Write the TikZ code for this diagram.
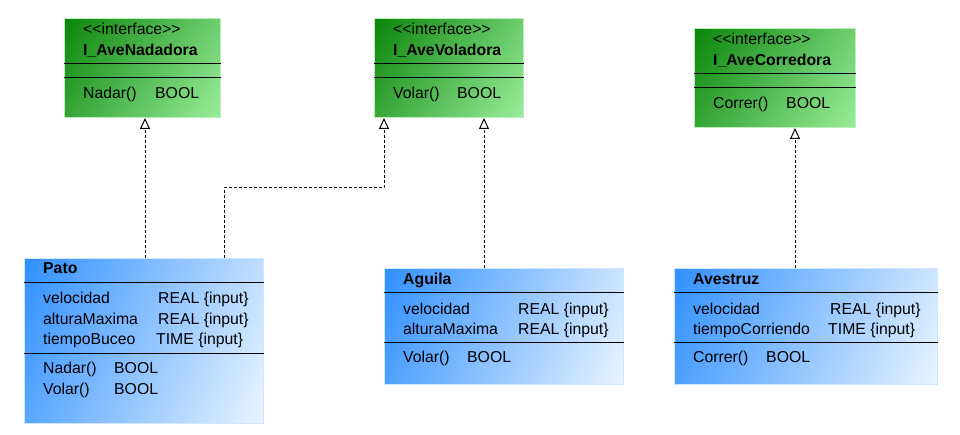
\documentclass[tikz,border=0pt]{standalone}
\usepackage{fontspec}
\setmainfont{Liberation Sans}
\usetikzlibrary{arrows.meta}
\definecolor{gdark}{HTML}{0A850A}
\definecolor{glight}{HTML}{9AEE9A}
\definecolor{gborder}{HTML}{B8F0B8}
\definecolor{bdark}{HTML}{3090FF}
\definecolor{blight}{HTML}{EAF5FF}
\definecolor{bborder}{HTML}{CFE6FF}
\pgfdeclareverticalshading{bluediag}{100bp}{color(0bp)=(blight); color(17bp)=(blight); color(83bp)=(bdark); color(100bp)=(bdark)}
\pgfdeclareverticalshading{greendiag}{100bp}{color(0bp)=(glight); color(15bp)=(glight); color(85bp)=(gdark); color(100bp)=(gdark)}
\tikzset{
  greenbox/.style={draw=gborder, line width=1pt, anchor=north west, inner sep=0pt,
    shading=greendiag, shading angle=55},
  bluebox/.style={draw=bborder, line width=1pt, anchor=north west, inner sep=0pt,
    shading=bluediag, shading angle=67},
  txt/.style={anchor=base west, inner sep=0pt, font=\fontsize{15.8}{18}\selectfont},
  sep/.style={line width=1pt, black},
  realize/.style={line width=1pt, dash pattern=on 3pt off 2pt,
    -{Triangle[open,width=10pt,length=11pt,line width=1pt]}}
}
\newcommand{\stereo}{<\kern0pt<interface>\kern0pt>}
\begin{document}
\begin{tikzpicture}[x=1pt,y=-1pt]
\useasboundingbox (0,0) rectangle (960,435);
% interfaces
\node[greenbox, minimum width=156pt, minimum height=99pt] (nad) at (64,18) {};
\node[greenbox, minimum width=149pt, minimum height=99pt] (vol) at (374,18) {};
\node[greenbox, minimum width=161pt, minimum height=99pt] (cor) at (694,28) {};
% classes
\node[bluebox, minimum width=239pt, minimum height=165pt] (pato) at (24,258) {};
\node[bluebox, minimum width=239pt, minimum height=116pt] (agu) at (384,268) {};
\node[bluebox, minimum width=263pt, minimum height=116pt] (ave) at (674,268) {};
% separators
\draw[sep] (nad.west |- 0,64) -- (nad.east |- 0,64);
\draw[sep] (nad.west |- 0,78) -- (nad.east |- 0,78);
\draw[sep] (vol.west |- 0,64) -- (vol.east |- 0,64);
\draw[sep] (vol.west |- 0,78) -- (vol.east |- 0,78);
\draw[sep] (cor.west |- 0,74) -- (cor.east |- 0,74);
\draw[sep] (cor.west |- 0,88) -- (cor.east |- 0,88);
\draw[sep] (pato.west |- 0,283) -- (pato.east |- 0,283);
\draw[sep] (pato.west |- 0,353) -- (pato.east |- 0,353);
\draw[sep] (agu.west |- 0,293) -- (agu.east |- 0,293);
\draw[sep] (agu.west |- 0,342) -- (agu.east |- 0,342);
\draw[sep] (ave.west |- 0,293) -- (ave.east |- 0,293);
\draw[sep] (ave.west |- 0,342) -- (ave.east |- 0,342);
% interface texts
\node[txt] (nad-st) at (83,35) {\stereo};
\node[txt] (nad-nm) at (83,56) {\bfseries I\_AveNadadora};
\node[txt] (nad-m1) at (83,99) {Nadar()};
\node[txt] (nad-t1) at (155,99) {BOOL};
\node[txt] (vol-st) at (393,35) {\stereo};
\node[txt] (vol-nm) at (393,56) {\bfseries I\_AveVoladora};
\node[txt] (vol-m1) at (393,99) {Volar()};
\node[txt] (vol-t1) at (457,99) {BOOL};
\node[txt] (cor-st) at (713,45) {\stereo};
\node[txt] (cor-nm) at (713,66) {\bfseries I\_AveCorredora};
\node[txt] (cor-m1) at (713,109) {Correr()};
\node[txt] (cor-t1) at (786,109) {BOOL};
% Pato
\node[txt] (pato-nm) at (43,274) {\bfseries Pato};
\node[txt] (pato-a1) at (43,304) {velocidad};
\node[txt] (pato-t1) at (158,304) {REAL \{input\}};
\node[txt] (pato-a2) at (43,324) {alturaMaxima};
\node[txt] (pato-t2) at (158,324) {REAL \{input\}};
\node[txt] (pato-a3) at (43,344) {tiempoBuceo};
\node[txt] (pato-t3) at (156,344) {TIME \{input\}};
\node[txt] (pato-m1) at (43,373) {Nadar()};
\node[txt] (pato-r1) at (114,373) {BOOL};
\node[txt] (pato-m2) at (43,394) {Volar()};
\node[txt] (pato-r2) at (114,394) {BOOL};
% Aguila
\node[txt] (agu-nm) at (403,284) {\bfseries Aguila};
\node[txt] (agu-a1) at (403,314) {velocidad};
\node[txt] (agu-t1) at (518,314) {REAL \{input\}};
\node[txt] (agu-a2) at (403,334) {alturaMaxima};
\node[txt] (agu-t2) at (518,334) {REAL \{input\}};
\node[txt] (agu-m1) at (403,362) {Volar()};
\node[txt] (agu-r1) at (467,362) {BOOL};
% Avestruz
\node[txt] (ave-nm) at (693,284) {\bfseries Avestruz};
\node[txt] (ave-a1) at (693,314) {velocidad};
\node[txt] (ave-t1) at (830,314) {REAL \{input\}};
\node[txt] (ave-a2) at (693,334) {tiempoCorriendo};
\node[txt] (ave-t2) at (828,334) {TIME \{input\}};
\node[txt] (ave-m1) at (693,362) {Correr()};
\node[txt] (ave-r1) at (766,362) {BOOL};
% realizations
\coordinate (bend1) at (224,188);
\coordinate (bend2) at (384,188);
\draw[realize] (pato.north -| 145,0) -- (nad.south -| 145,0);
\draw[realize] (pato.north -| bend1) -- (bend1) -- (bend2) -- (vol.south -| bend2);
\draw[realize] (agu.north -| 484,0) -- (vol.south -| 484,0);
\draw[realize] (ave.north -| 795,0) -- (cor.south -| 795,0);
\end{tikzpicture}
\end{document}
